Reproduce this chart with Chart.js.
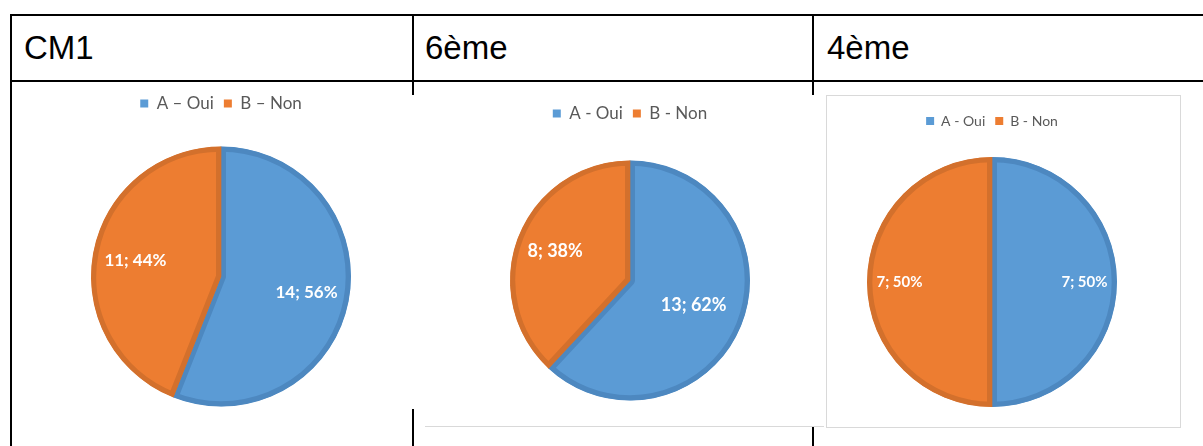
<!DOCTYPE html>
<html>
<head>
<meta charset="utf-8">
<script src="https://cdn.jsdelivr.net/npm/chart.js@4"></script>
<style>
  body { margin:0; background:#fff; width:1203px; height:446px; overflow:hidden; position:relative; font-family:"Liberation Sans", Arial, sans-serif; }
  .ln { position:absolute; background:#000; }
  .hd { position:absolute; top:28px; font-size:33px; line-height:40px; color:#000; }
  .box { position:absolute; }
</style>
</head>
<body>
<!-- table borders -->
<div class="ln" style="left:10px;top:14px;width:1193px;height:2px"></div>
<div class="ln" style="left:10px;top:80px;width:1193px;height:2px"></div>
<div class="ln" style="left:10px;top:14px;width:2px;height:432px"></div>
<div class="ln" style="left:412px;top:14px;width:2px;height:81px"></div>
<div class="ln" style="left:412px;top:409px;width:2px;height:37px"></div>
<div class="ln" style="left:812px;top:14px;width:2px;height:81px"></div>
<div class="ln" style="left:812px;top:427px;width:2px;height:19px"></div>
<div style="position:absolute;left:425px;top:426px;width:399px;height:1px;background:#d9d9d9"></div>
<div style="position:absolute;left:826px;top:95px;width:355px;height:333px;border:1px solid #d9d9d9;box-sizing:border-box"></div>

<div class="hd" id="h0" style="left:24px"></div>
<div class="hd" id="h1" style="left:425px"></div>
<div class="hd" id="h2" style="left:827px"></div>

<div class="box" style="left:12px;top:85px;width:418px;height:346px"><canvas id="c0"></canvas></div>
<div class="box" style="left:430px;top:95px;width:400px;height:334px"><canvas id="c1"></canvas></div>
<div class="box" style="left:832px;top:104px;width:320px;height:322px"><canvas id="c2"></canvas></div>

<script>
const groups = ['CM1', '6ème', '4ème'];
const labelsCM1 = ['A – Oui', 'B – Non'];
const labels6e = ['A - Oui', 'B - Non'];
const labels4e = ['A - Oui', 'B - Non'];
const ouiCounts = [14, 13, 7];
const nonCounts = [11, 8, 7];

const fillColors = ['#5b9bd5', '#ed7d31'];
const edgeColors = ['#4d88c0', '#d3702c'];

// writes "n; p%" inside each slice, like the office chart
const sliceLabels = {
  id: 'sliceLabels',
  afterDatasetsDraw(chart, args, opts) {
    const ctx = chart.ctx;
    const data = chart.data.datasets[0].data;
    const total = data.reduce((a, b) => a + b, 0);
    chart.getDatasetMeta(0).data.forEach((arc, i) => {
      const mid = (arc.startAngle + arc.endAngle) / 2;
      const d = arc.outerRadius * opts.dist[i];
      ctx.save();
      ctx.font = 'bold ' + opts.size + 'px Lato';
      ctx.fillStyle = '#fff';
      ctx.textAlign = 'center';
      ctx.textBaseline = 'middle';
      ctx.fillText(data[i] + '; ' + Math.round(data[i] / total * 100) + '%',
        arc.x + Math.cos(mid) * d, arc.y + Math.sin(mid) * d);
      ctx.restore();
    });
  }
};

function makePie(id, labels, values, radius, legendSize, labelSize, dist) {
  new Chart(document.getElementById(id), {
    type: 'pie',
    data: {
      labels: labels,
      datasets: [{
        data: values,
        backgroundColor: fillColors,
        borderColor: edgeColors,
        borderWidth: 5,
        borderAlign: 'inner',
        radius: radius
      }]
    },
    options: {
      responsive: true,
      maintainAspectRatio: false,
      animation: false,
      layout: { padding: 0 },
      plugins: {
        tooltip: { enabled: false },
        legend: {
          position: 'top',
          labels: {
            boxWidth: 8,
            boxHeight: 8,
            padding: 10,
            color: '#595959',
            font: { family: 'Lato', size: legendSize },
            generateLabels: (chart) =>
              Chart.overrides.doughnut.plugins.legend.labels.generateLabels(chart)
                .map(l => Object.assign(l, { lineWidth: 0 }))
          }
        },
        sliceLabels: { size: labelSize, dist: dist }
      }
    },
    plugins: [sliceLabels]
  });
}

groups.forEach((g, i) => { document.getElementById('h' + i).textContent = g; });

makePie('c0', labelsCM1, [ouiCounts[0], nonCounts[0]], 130, 17, 17, [0.67, 0.67]);
makePie('c1', labels6e, [ouiCounts[1], nonCounts[1]], 120, 17, 18, [0.57, 0.67]);
makePie('c2', labels4e, [ouiCounts[2], nonCounts[2]], 125, 14, 15, [0.74, 0.74]);
</script>
</body>
</html>
